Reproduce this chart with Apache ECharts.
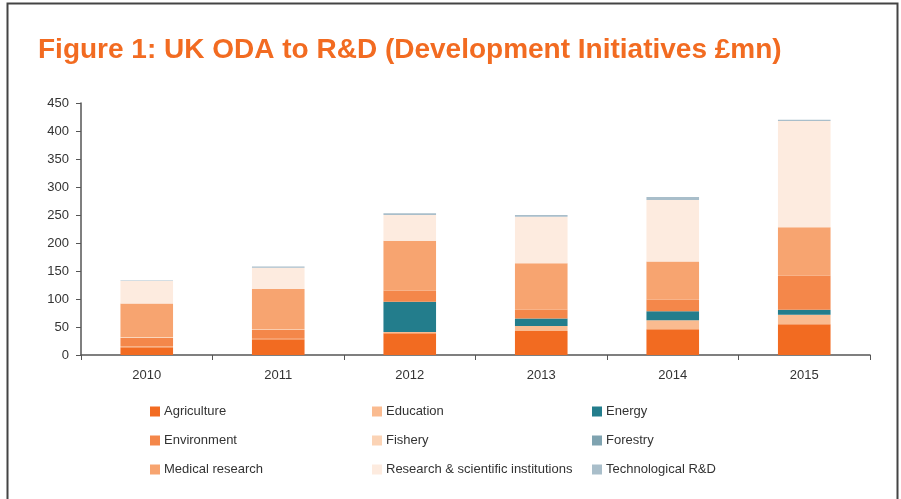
<!DOCTYPE html>
<html><head><meta charset="utf-8">
<script src="https://cdn.jsdelivr.net/npm/echarts@6/dist/echarts.min.js"></script>
<style>html,body{margin:0;padding:0;background:#fff}#c{width:901px;height:499px}</style>
</head><body><div id="c"></div>
<script>
const years = ['2010','2011','2012','2013','2014','2015'];
const agriculture = [14, 28, 39, 43, 46, 55];
const education = [1, 1, 2, 9, 16, 17];
const energy = [0, 0, 54, 13, 16, 9];
const environment = [16, 16, 20, 16, 21, 61];
const fishery = [1, 1, 0, 0, 0, 0];
const forestry = [0, 0, 0, 0, 0, 0];
const medical = [60, 72, 89, 83, 68, 86];
const research = [40, 38, 46, 83, 110, 190];
const technological = [1, 2, 3, 3, 5, 2];
const yTicks = [0, 50, 100, 150, 200, 250, 300, 350, 400, 450];

const seriesDefs = [
  ['Agriculture', agriculture, '#F26B21'],
  ['Education', education, '#FABB90'],
  ['Energy', energy, '#237D8C'],
  ['Environment', environment, '#F4874A'],
  ['Fishery', fishery, '#FBD3B5'],
  ['Forestry', forestry, '#7FA3B0'],
  ['Medical research', medical, '#F7A470'],
  ['Research & scientific institutions', research, '#FDEBDF'],
  ['Technological R&D', technological, '#A9BECA']
];
const font = 'Liberation Sans, Arial, sans-serif';
const chart = echarts.init(document.getElementById('c'));
function legendCol(names, left) {
  return {
    orient: 'vertical', left: left, top: 400, itemWidth: 10, itemHeight: 10, itemGap: 16,
    icon: 'rect', data: names,
    textStyle: {fontFamily: font, fontSize: 13, color: '#333', padding: [0,0,0,-1]}
  };
}
chart.setOption({
  animation: false,
  title: {
    text: 'Figure 1: UK ODA to R&D (Development Initiatives £mn)',
    left: 33, top: 31,
    textStyle: {fontFamily: font, fontWeight: 'bold', fontSize: 28, color: '#F26B21'}
  },
  graphic: [{type: 'rect', x: 0, y: 0, shape: {x: 7.5, y: 3.5, width: 890, height: 510},
    style: {fill: 'none', stroke: '#444', lineWidth: 2}}],
  legend: [
    legendCol(['Agriculture', 'Environment', 'Medical research'], 145),
    legendCol(['Education', 'Fishery', 'Research & scientific institutions'], 367),
    legendCol(['Energy', 'Forestry', 'Technological R&D'], 587)
  ],
  grid: {left: 81, right: 31, top: 103, bottom: 144},
  xAxis: {
    type: 'category', data: years,
    axisLine: {lineStyle: {color: '#555', width: 1.5}},
    axisTick: {show: true, length: 5, lineStyle: {color: '#555'}},
    axisLabel: {fontFamily: font, fontSize: 13, color: '#333', margin: 14}
  },
  yAxis: {
    type: 'value', min: yTicks[0], max: yTicks[yTicks.length - 1], interval: 50,
    axisLine: {show: true, lineStyle: {color: '#555', width: 1.5}},
    axisTick: {show: true, length: 5, lineStyle: {color: '#555'}},
    splitLine: {show: false},
    axisLabel: {fontFamily: font, fontSize: 13, color: '#333', margin: 12}
  },
  series: seriesDefs.map(([name, data, color]) => ({
    name, type: 'bar', stack: 'total', data, barWidth: '40%',
    itemStyle: {color}
  }))
});
</script></body></html>
